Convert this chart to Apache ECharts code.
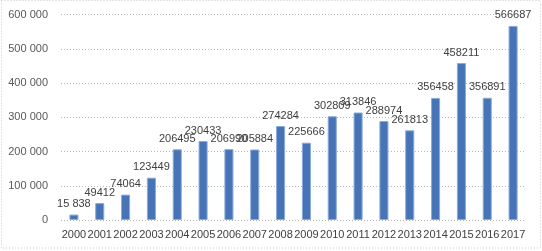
<!DOCTYPE html>
<html><head><meta charset="utf-8">
<script src="https://cdn.jsdelivr.net/npm/echarts@6/dist/echarts.min.js"></script>
<style>html,body{margin:0;padding:0;background:#fff}#c{width:542px;height:251px}</style>
</head><body><div id="c"></div>
<script>
var years = ['2000','2001','2002','2003','2004','2005','2006','2007','2008','2009','2010','2011','2012','2013','2014','2015','2016','2017'];
var values = [15838,49412,74064,123449,206495,230433,206990,205884,274284,225666,302809,313846,288974,261813,356458,458211,356891,566687];
var valueLabels = ['15 838','49412','74064','123449','206495','230433','206990','205884','274284','225666','302809','313846','288974','261813','356458','458211','356891','566687'];
var yTicks = [0,100000,200000,300000,400000,500000,600000];

var chart = echarts.init(document.getElementById('c'), null, {renderer:'canvas'});
chart.setOption({
  animation:false,
  backgroundColor:'#fff',
  graphic:[{type:'rect',shape:{x:1.5,y:0.5,width:539,height:247.5},style:{fill:null,stroke:'#c8c8c8',lineWidth:1,lineDash:[1,2]},silent:true}],
  grid:{left:61,right:16,top:14.5,bottom:31,containLabel:false},
  xAxis:{type:'category',data:years,
    axisLine:{show:false},axisTick:{show:false},
    axisLabel:{interval:0,margin:9,color:'#404040',fontSize:11,fontFamily:'Liberation Sans'}},
  yAxis:{type:'value',min:yTicks[0],max:yTicks[yTicks.length-1],interval:yTicks[1]-yTicks[0],
    axisLine:{show:false},axisTick:{show:false},
    axisLabel:{margin:13,color:'#595959',fontSize:11,fontFamily:'Liberation Sans',
      formatter:function(v){return String(v).replace(/\B(?=(\d{3})+(?!\d))/g,' ');}},
    splitLine:{lineStyle:{color:'#b8b8b8',type:[1,2],width:1}}},
  series:[{type:'bar',data:values,barWidth:'35%',
    itemStyle:{color:'#4674b6',borderColor:'#8aaad8',borderWidth:1},
    label:{show:true,position:'top',distance:5,color:'#404040',fontSize:11,fontFamily:'Liberation Sans',
      formatter:function(p){return valueLabels[p.dataIndex];}}}]
});
</script></body></html>
